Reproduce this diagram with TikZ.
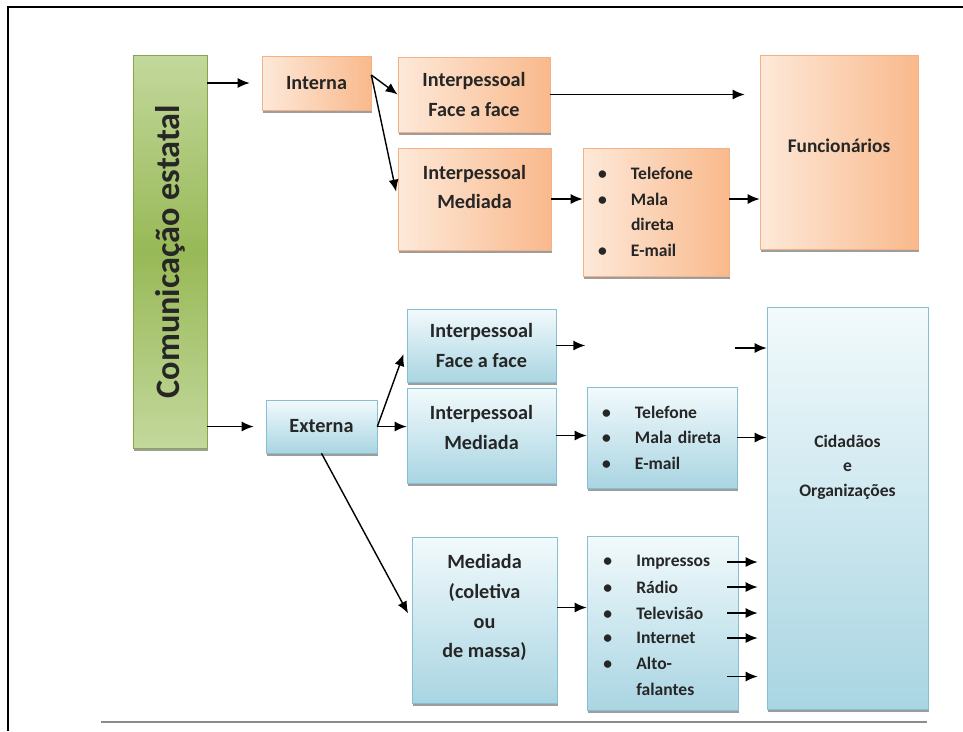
\documentclass[tikz,border=0pt]{standalone}
\usepackage{fontspec}
\setmainfont{Carlito}
\usetikzlibrary{arrows.meta,positioning,calc,shadows}

\definecolor{peachL}{HTML}{FDE9D9}
\definecolor{peachD}{HTML}{F9B98C}
\definecolor{peachLine}{HTML}{F4B183}
\definecolor{skyL}{HTML}{F2FAFC}
\definecolor{skyD}{HTML}{A9D5E2}
\definecolor{skyLine}{HTML}{86C0D2}
\definecolor{leafL}{HTML}{C3D89C}
\definecolor{leafD}{HTML}{98B957}
\definecolor{leafLine}{HTML}{86A64A}

\newcommand{\bul}{\makebox[0.66cm][l]{\textbullet}}

\begin{document}
\begin{tikzpicture}[
    x=0.02cm, y=-0.02cm,
    txt/.style={font=\bfseries\fontsize{11.5}{17}\selectfont, text=black!85, align=center},
    small/.style={font=\bfseries\fontsize{10}{14.5}\selectfont, text=black!85},
    box/.style={rectangle, inner sep=0pt, line width=0.4pt,
        drop shadow={shadow xshift=0.8pt, shadow yshift=-1.8pt, fill=black!55, opacity=0.7}},
    inbox/.style={box, draw=peachLine, left color=peachL, right color=peachD, txt},
    outbox/.style={box, draw=skyLine, top color=skyL, bottom color=skyD, txt},
    rootbox/.style={box, draw=leafLine, top color=leafL, bottom color=leafL, middle color=leafD,
        font=\bfseries\fontsize{19.5}{22}\selectfont, text=black!85},
    lst/.style={small, align=left, inner xsep=0.3cm, inner ysep=0pt},
    item/.style={small, anchor=west, align=left, inner sep=0pt},
    arrow/.style={-{Latex[length=2.4mm,width=2mm]}, line width=0.8pt}
]
\useasboundingbox (0,0) rectangle (963,731);
\draw[line width=1pt] (8,731) |- (963,7);
\draw[black!45, line width=1pt] (101,722) -- (927,722);

\node[rootbox, minimum width=1.48cm, minimum height=7.86cm] (com) at (170,251.5)
    {\rotatebox{90}{Comunicação estatal}};

% interna
\node[inbox, minimum width=2.18cm, minimum height=1.08cm] (interna) at (316.5,83) {Interna};
\node[inbox, minimum width=3.04cm, minimum height=1.5cm] (ffi) at (474,94.5) {Interpessoal\\Face a face};
\node[inbox, minimum width=3.06cm, minimum height=2.04cm,
    label={[txt, yshift=0.24cm]center:Interpessoal\\Mediada}] (medi) at (474.5,199) {};
\node[inbox, lst, text width=2.32cm, minimum height=2.56cm] (ilist) at (656,212)
    {\bul Telefone\\\bul Mala\\\hspace*{0.66cm}direta\\\bul E-mail};
\node[inbox, minimum width=3.16cm, minimum height=3.88cm,
    label={[txt, yshift=0.12cm, font=\bfseries\fontsize{11}{15}\selectfont]center:Funcionários}] (func) at (839,152) {};

% externa
\node[outbox, minimum width=2.22cm, minimum height=1.06cm] (externa) at (321.5,426.5) {Externa};
\node[outbox, minimum width=2.98cm, minimum height=1.46cm] (ffe) at (481.5,345.5) {Interpessoal\\Face a face};
\node[outbox, minimum width=2.98cm, minimum height=1.9cm,
    label={[txt, yshift=0.16cm]center:Interpessoal\\Mediada}] (mede) at (481.5,435.5) {};
\node[outbox, lst, text width=2.4cm, minimum height=2.02cm] (elist) at (662,437.5)
    {\bul Telefone\\\bul Mala direta\\\bul E-mail};
\node[outbox, minimum width=3.22cm, minimum height=8.04cm,
    label={[small, align=center, font=\bfseries\fontsize{10}{14}\selectfont, yshift=0.82cm]center:Cidadãos\\e\\Organizações}] (cid) at (847.5,508) {};
\node[outbox, minimum width=2.9cm, minimum height=3.32cm,
    label={[txt, name=mctxt, yshift=0.25cm]center:Mediada\\(coletiva\\ou\\de massa)}] (mc) at (484.5,620) {};
\node[outbox, minimum width=3.02cm, minimum height=3.48cm] (mlist) at (662.5,623) {};

\foreach \nm/\txt/\yy in {imp/Impressos/562, rad/Rádio/587, tv/Televisão/613,
    net/Internet/638, alt/{Alto-\\\hspace*{0.66cm}falantes}/676.5}
  \node[item] (\nm) at (603,\yy) {\bul\txt};

\coordinate[right=0.58cm of ffe.east] (gapa);
\coordinate (gapb) at (735,348);

\draw[arrow, shorten >=0.24cm] (com.east |- interna) -- (interna);
\draw[arrow, shorten >=0.24cm] (com.east |- externa) -- (externa);
\draw[arrow] ([yshift=0.16cm]interna.east) -- (ffi.west);
\draw[arrow, shorten >=0.15cm] ([yshift=0.16cm]interna.east) -- (medi.west);
\draw[arrow, shorten >=0.3cm] (ffi.east) -- (ffi.east -| func.west);
\draw[arrow] (medi.east) -- (medi.east -| ilist.west);
\draw[arrow] (ilist.east |- medi.east) -- (medi.east -| func.west);

\draw[arrow, shorten >=0.18cm] (externa.east) -- (ffe.west);
\draw[arrow] (externa.east) -- (externa.east -| mede.west);
\draw[arrow, shorten >=0.15cm] (externa.south) -- (mc.west);
\draw[arrow] (ffe.east) -- (gapa);
\draw[arrow] (gapb) -- (gapb -| cid.west);
\draw[arrow] (mede.east) -- (mede.east -| elist.west);
\draw[arrow] (elist.east) -- (elist.east -| cid.west);
\draw[arrow] (mctxt -| mc.east) -- (mctxt -| mlist.west);
\foreach \nm in {imp,rad,tv,net,alt}
  \draw[arrow, shorten >=0.18cm] ($(\nm -| mlist.east)+(-11,0)$) -- (\nm -| cid.west);
\end{tikzpicture}
\end{document}
